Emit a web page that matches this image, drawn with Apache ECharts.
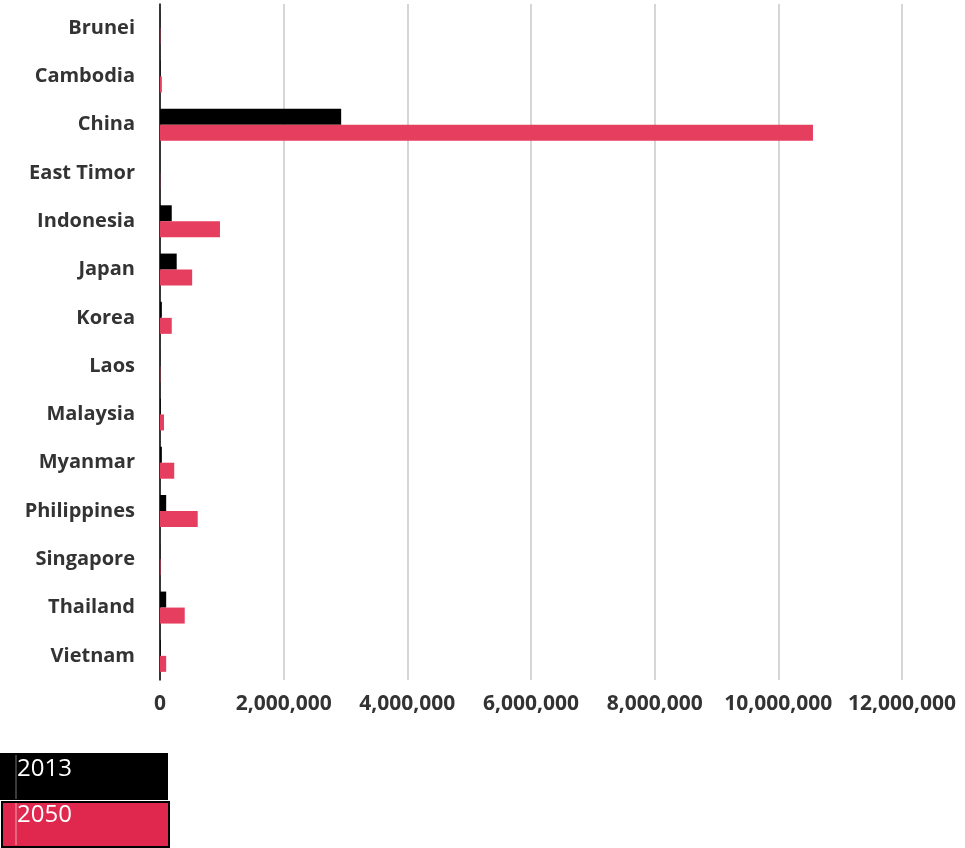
<!DOCTYPE html>
<html>
<head>
<meta charset="utf-8">
<script src="https://cdn.jsdelivr.net/npm/echarts@6/dist/echarts.min.js"></script>
<style>
    html, body { margin: 0; padding: 0; background: #fff; }
    #chart { width: 965px; height: 848px; }
</style>
</head>
<body>
<div id="chart"></div>
<script>
    // 各国数值 (2013 / 2050)
    var countries = ['Brunei', 'Cambodia', 'China', 'East Timor', 'Indonesia', 'Japan', 'Korea',
        'Laos', 'Malaysia', 'Myanmar', 'Philippines', 'Singapore', 'Thailand', 'Vietnam']
    var values2013 = [2000, 8000, 2930000, 1000, 190000, 270000, 30000, 2000, 12000, 30000, 100000, 3000, 100000, 12000]
    var values2050 = [5000, 30000, 10560000, 3000, 970000, 520000, 190000, 5000, 65000, 230000, 610000, 8000, 400000, 100000]
    var xTicks = [0, 2000000, 4000000, 6000000, 8000000, 10000000, 12000000]
    var legendNames = ['2013', '2050']

    var chart = echarts.init(document.getElementById('chart'))
    var option = {
        animation: false,
        grid: {
            left: 160,
            right: 63,
            top: 4,
            bottom: 168,
            containLabel: false,
        },
        xAxis: {
            type: 'value',
            min: xTicks[0],
            max: xTicks[xTicks.length - 1],
            interval: xTicks[1] - xTicks[0],
            axisLine: { show: false },
            axisTick: { show: false },
            splitLine: {
                show: true,
                lineStyle: { color: '#c8c8c8', width: 1.5 },
            },
            axisLabel: {
                color: '#333',
                fontFamily: 'Open Sans',
                fontWeight: 'bold',
                fontSize: 21,
                margin: 14,
                formatter: function(v) {
                    return v.toLocaleString('en-US')
                },
            },
        },
        yAxis: {
            type: 'category',
            inverse: true,
            data: countries,
            axisLine: { show: true, lineStyle: { color: '#000', width: 1.5 } },
            axisTick: { show: false },
            axisLabel: {
                color: '#333',
                fontFamily: 'Open Sans',
                fontWeight: 'bold',
                fontSize: 20,
                margin: 25,
            },
        },
        series: [
            {
                name: legendNames[0],
                type: 'bar',
                data: values2013,
                barWidth: 16,
                barGap: '0%',
                itemStyle: { color: '#000' },
            },
            {
                name: legendNames[1],
                type: 'bar',
                data: values2050,
                barWidth: 16,
                barGap: '0%',
                itemStyle: { color: '#e63e5e' },
            },
        ],
        graphic: [
            {
                type: 'rect',
                left: 0,
                top: 753,
                shape: { width: 168, height: 47 },
                style: { fill: '#000' },
            },
            {
                type: 'rect',
                left: 1,
                top: 801,
                shape: { width: 167, height: 45 },
                style: { fill: '#e0284f', stroke: '#000', lineWidth: 2 },
            },
            {
                type: 'line',
                shape: { x1: 16, y1: 755, x2: 16, y2: 799 },
                style: { stroke: '#777', lineWidth: 1 },
            },
            {
                type: 'line',
                shape: { x1: 16, y1: 803, x2: 16, y2: 845 },
                style: { stroke: '#f0a0b0', lineWidth: 1 },
            },
            {
                type: 'text',
                left: 17,
                top: 757,
                style: { text: legendNames[0], fill: '#fff', font: '24px "Open Sans"' },
            },
            {
                type: 'text',
                left: 17,
                top: 803,
                style: { text: legendNames[1], fill: '#fff', font: '24px "Open Sans"' },
            },
        ],
    }
    option && chart.setOption(option)
</script>
</body>
</html>
